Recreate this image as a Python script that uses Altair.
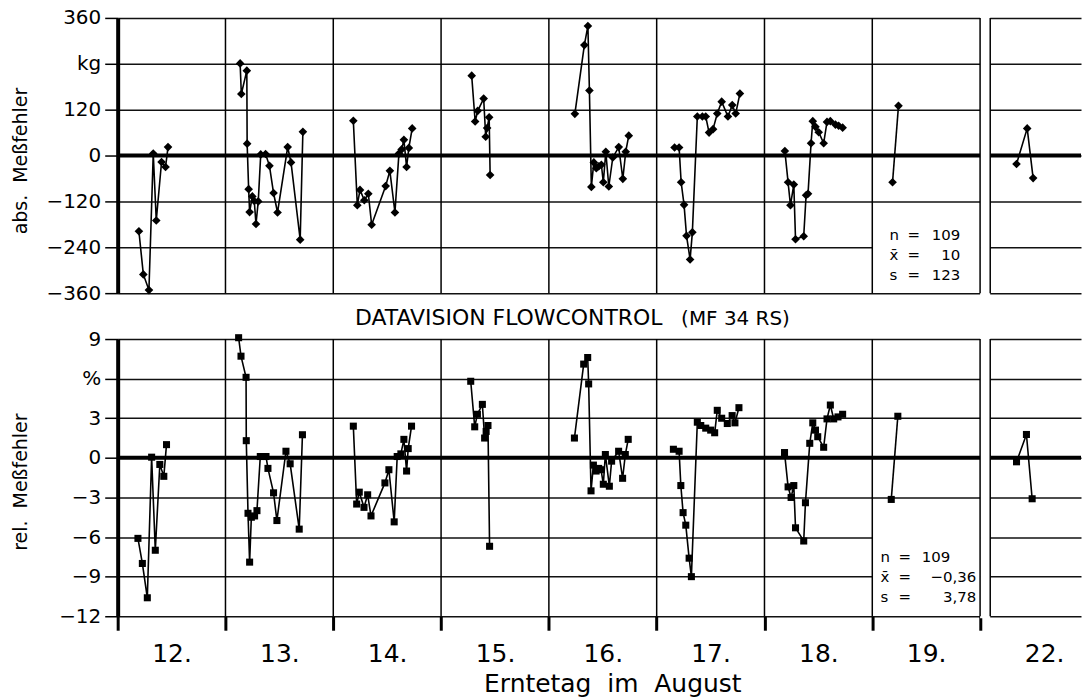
import altair as alt
import pandas as pd

DAY_LABELS = ["12.", "13.", "14.", "15.", "16.", "17.", "18.", "19.", "22."]

# absolute error (kg): points per day, position within the day (0..1), value
ABS_COUNTS = [8, 19, 15, 8, 17, 18, 18, 2, 3]
ABS_T = [
    0.197, 0.238, 0.290, 0.330, 0.358, 0.407, 0.444, 0.467,
    0.136, 0.147, 0.198, 0.201, 0.215, 0.224, 0.249, 0.267, 0.283, 0.304, 0.327, 0.372, 0.408, 0.446, 0.483, 0.577, 0.608, 0.693, 0.718,
    0.186, 0.223, 0.248, 0.288, 0.325, 0.356, 0.486, 0.525, 0.572, 0.609, 0.634, 0.655, 0.680, 0.701, 0.732,
    0.284, 0.316, 0.340, 0.395, 0.414, 0.427, 0.446, 0.455,
    0.241, 0.329, 0.362, 0.376, 0.394, 0.417, 0.440, 0.463, 0.487, 0.505, 0.528, 0.556, 0.593, 0.648, 0.686, 0.713, 0.741,
    0.166, 0.208, 0.227, 0.254, 0.277, 0.310, 0.331, 0.377, 0.424, 0.455, 0.486, 0.523, 0.562, 0.603, 0.661, 0.701, 0.733, 0.772,
    0.189, 0.219, 0.241, 0.272, 0.288, 0.364, 0.386, 0.404, 0.432, 0.448, 0.473, 0.503, 0.549, 0.580, 0.611, 0.658, 0.688, 0.725,
    0.188, 0.243,
    0.244, 0.343, 0.398,
]
ABS_VAL = [
    -198, -311, -352, 5, -170, -17, -30, 22,
    241, 161, 222, 31, -88, -148, -107, -119, -179, -120, 3, 4, -27, -98, -149, 22, -18, -220, 62,
    91, -130, -90, -117, -100, -181, -80, -40, -149, 5, 16, 41, -30, 20, 71,
    209, 89, 117, 149, 49, 72, 100, -51,
    109, 289, 339, 170, -82, -18, -33, -28, -24, -70, 10, -81, -5, 22, -61, 10, 52,
    21, 21, -70, -129, -210, -272, -201, 102, 102, 102, 60, 69, 110, 141, 102, 132, 110, 162,
    12, -70, -130, -76, -219, -211, -104, -100, 32, 90, 75, 61, 32, 88, 90, 81, 78, 73,
    -70, 130,
    -22, 71, -59,
]

# relative error (%)
REL_COUNTS = [8, 18, 15, 8, 17, 18, 17, 2, 3]
REL_T = [
    0.188, 0.229, 0.275, 0.315, 0.349, 0.391, 0.428, 0.453,
    0.122, 0.144, 0.191, 0.193, 0.209, 0.224, 0.240, 0.270, 0.292, 0.323, 0.376, 0.394, 0.446, 0.477, 0.561, 0.600, 0.684, 0.714,
    0.186, 0.217, 0.241, 0.285, 0.319, 0.350, 0.479, 0.516, 0.565, 0.593, 0.627, 0.655, 0.680, 0.695, 0.726,
    0.275, 0.312, 0.337, 0.383, 0.404, 0.418, 0.435, 0.450,
    0.237, 0.323, 0.360, 0.369, 0.391, 0.413, 0.438, 0.462, 0.484, 0.505, 0.524, 0.561, 0.582, 0.647, 0.684, 0.709, 0.736,
    0.155, 0.208, 0.224, 0.245, 0.270, 0.301, 0.322, 0.377, 0.409, 0.455, 0.501, 0.538, 0.562, 0.603, 0.655, 0.700, 0.726, 0.763,
    0.186, 0.219, 0.247, 0.272, 0.288, 0.364, 0.380, 0.420, 0.448, 0.473, 0.494, 0.549, 0.580, 0.611, 0.642, 0.682, 0.725,
    0.176, 0.237,
    0.244, 0.336, 0.389,
]
REL_VAL = [
    -6.1, -8.0, -10.6, 0.05, -7.0, -0.5, -1.4, 1.0,
    9.1, 7.7, 6.1, 1.3, -4.2, -7.9, -4.5, -4.4, -4.0, 0.1, 0.1, -0.8, -2.65, -4.75, 0.5, -0.45, -5.4, 1.75,
    2.4, -3.5, -2.6, -3.75, -2.8, -4.4, -1.9, -0.9, -4.85, 0.1, 0.3, 1.4, -1.0, 0.7, 2.4,
    5.8, 2.35, 3.3, 4.05, 1.5, 2.0, 2.45, -6.7,
    1.5, 7.1, 7.6, 5.6, -2.5, -0.55, -1.0, -0.8, -0.9, -2.0, 0.25, -2.15, -0.25, 0.5, -1.55, 0.25, 1.4,
    0.65, 0.5, -2.1, -4.15, -5.1, -7.6, -9.0, 2.7, 2.45, 2.25, 2.1, 1.9, 3.6, 3.0, 2.6, 3.2, 2.65, 3.8,
    0.4, -2.2, -3.0, -2.1, -5.3, -6.3, -3.4, 1.1, 2.65, 2.1, 1.6, 0.8, 2.95, 4.0, 2.95, 3.1, 3.3,
    -3.15, 3.15,
    -0.3, 1.77, -3.1,
]

ABS_TICKS = [-360, -240, -120, 0, 120, 240, 360]
REL_TICKS = [-12, -9, -6, -3, 0, 3, 6, 9]
ABS_STATS = ["109", "10", "123"]
REL_STATS = ["109", "\u22120,36", "3,78"]

# ---------------- layout ----------------
GAP = 0.094            # break between 19. and 22.
W = 966
PX_PER_DAY = 108.1
XMAX = W / PX_PER_DAY
H_TOP, H_BOT = 276, 278
FONT = "DejaVu Sans"


def slot(i):
    return i + (GAP if i == len(DAY_LABELS) - 1 else 0)


def build(counts, ts, vals):
    rows, k = [], 0
    for i, c in enumerate(counts):
        for _ in range(c):
            rows.append({"day": DAY_LABELS[i], "x": slot(i) + ts[k], "v": vals[k]})
            k += 1
    return pd.DataFrame(rows)


abs_df = build(ABS_COUNTS, ABS_T, ABS_VAL)
rel_df = build(REL_COUNTS, REL_T, REL_VAL)
bounds_df = pd.DataFrame({"b": [float(i) for i in range(1, len(DAY_LABELS))] + [slot(len(DAY_LABELS) - 1)]})
one = pd.DataFrame({"k": [0]})

xs = alt.Scale(domain=[0, XMAX], nice=False, zero=False)

tick_vals = [float(i) for i in range(len(DAY_LABELS))]
label_vals = [slot(i) + 0.5 for i in range(len(DAY_LABELS))]
label_expr = "''"
for pos, lab in zip(label_vals, DAY_LABELS):
    label_expr = f"abs(datum.value - {pos}) < 0.01 ? '{lab}' : ({label_expr})"

x_axis_bottom = alt.Axis(
    values=tick_vals + label_vals, labelExpr=label_expr,
    tickSize=14, tickWidth=3, tickColor="black",
    tickOpacity={"condition": {"test": "datum.value % 1 == 0", "value": 1}, "value": 0},
    domain=False, grid=False, labelFontSize=25, labelPadding=31, labelBaseline="alphabetic",
    labelColor="black", labelFlush=False, labelOverlap=False,
    title="Erntetag\u00a0\u00a0im\u00a0\u00a0August", titleFontSize=25, titleFontWeight="normal",
    titleColor="black", titleX=496, titleY=75, titleBaseline="alphabetic",
)


def y_axis(ticks, unit_val, unit_lab, title):
    return alt.Axis(
        values=ticks, labelExpr=f"datum.value == {unit_val} ? '{unit_lab}' : datum.label",
        tickSize=13, tickWidth=1.5, tickColor="black", domainWidth=4, domainColor="black",
        grid=True, gridColor="#111", gridWidth=1.5, gridOpacity=1,
        labelFontSize=20, labelPadding=4, labelColor="black",
        title=title, titleFontSize=19, titleFontWeight="normal", titleColor="black",
        titleX=-97, titleY=143, titleBaseline="middle", titleAngle=270,
    )


def panel(df, ydomain, yaxis, xaxis, shape, size, height, box_y, stats_layers):
    # the same axis object on every layer so the shared axis is not disabled
    ys = alt.Scale(domain=ydomain, nice=False, zero=False)
    zero = alt.Chart(one).mark_rule(color="black", strokeWidth=4).encode(
        y=alt.YDatum(0, scale=ys, axis=yaxis))
    gap = alt.Chart(one).mark_rect(color="white").encode(
        x=alt.XDatum(8.0, scale=xs, axis=xaxis), x2=alt.X2Datum(slot(len(DAY_LABELS) - 1)),
        y=alt.value(-2), y2=alt.value(height + 2))
    box = alt.Chart(one).mark_rect(color="white").encode(
        x=alt.XDatum(7.0, scale=xs, axis=xaxis), x2=alt.X2Datum(8.0),
        y=alt.YDatum(box_y[0], scale=ys, axis=yaxis), y2=alt.Y2Datum(box_y[1]))
    vlines = alt.Chart(bounds_df).mark_rule(color="black", strokeWidth=1.5).encode(
        x=alt.X("b:Q", scale=xs, axis=xaxis))
    lines = alt.Chart(df).mark_line(color="black", strokeWidth=1.6).encode(
        x=alt.X("x:Q", scale=xs, axis=xaxis),
        y=alt.Y("v:Q", scale=ys, axis=yaxis),
        detail="day:N")
    pts = alt.Chart(df).mark_point(shape=shape, filled=True, size=size, color="black", opacity=1).encode(
        x=alt.X("x:Q", scale=xs, axis=xaxis),
        y=alt.Y("v:Q", scale=ys, axis=yaxis))
    return alt.layer(zero, gap, box, vlines, lines, pts, *stats_layers).properties(width=W, height=height)


def txt(text, x, y, align="left", size=15, baseline="top"):
    return alt.Chart(one).mark_text(
        text=text, lineBreak="\n", align=align, baseline=baseline, fontSize=size,
        lineHeight=20, color="black", font=FONT).encode(x=alt.value(x), y=alt.value(y))


top_stats = [
    txt("n\nx\u0304\ns", 774, 211),
    txt("=\n=\n=", 792, 211),
    txt("\n".join(ABS_STATS), 845, 211, align="right"),
]
bot_stats = [
    txt("n\nx\u0304\ns", 765, 212),
    txt("=\n=\n=", 783, 212),
    txt(REL_STATS[0], 835, 212, align="right"),
    txt("\n".join(REL_STATS[1:]), 861, 232, align="right"),
    txt("DATAVISION FLOWCONTROL", 238, -14, size=22, baseline="alphabetic"),
    txt("(MF 34 RS)", 565, -14, size=20, baseline="alphabetic"),
]

top = panel(abs_df, [-360, 360], y_axis(ABS_TICKS, 240, "kg", "abs.\u00a0\u00a0Meßfehler"), None,
            "diamond", 75, H_TOP, (-128, -352), top_stats)
bottom = panel(rel_df, [-12, 9], y_axis(REL_TICKS, 6, "%", "rel.\u00a0\u00a0Meßfehler"), x_axis_bottom,
               "square", 50, H_BOT, (-3.4, -11.6), bot_stats)

chart = alt.vconcat(top, bottom, spacing=46, bounds="flush").properties(
    padding={"left": 12, "top": 7, "right": 0, "bottom": 0}
).configure(font=FONT).configure_view(stroke=None).configure_axis(labelFont=FONT, titleFont=FONT)

chart.save("out.html", embed_options={"renderer": "svg", "actions": False})
